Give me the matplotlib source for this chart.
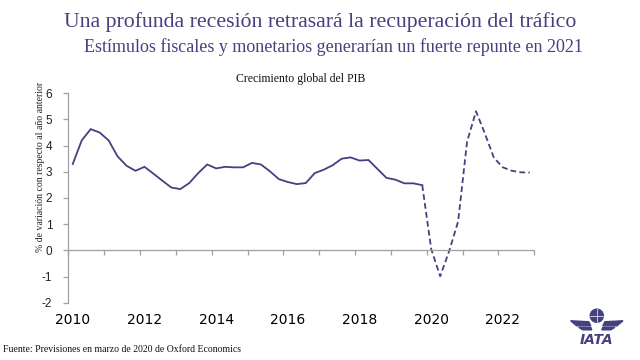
import matplotlib
matplotlib.use("Agg")
import matplotlib.pyplot as plt
import numpy as np
from matplotlib.patches import Circle, Polygon

# Quarterly global GDP growth (% y/y), 2010Q1 .. 2022Q4
years = list(range(2010, 2023))
actual = [3.30, 4.20, 4.63, 4.50,
          4.20, 3.59, 3.23, 3.04,
          3.19, 2.93, 2.66, 2.40,
          2.34, 2.57, 2.95, 3.28,
          3.13, 3.19, 3.17, 3.17,
          3.34, 3.28, 3.02, 2.72,
          2.61, 2.53, 2.57, 2.95,
          3.08, 3.25, 3.50, 3.55,
          3.43, 3.45, 3.11, 2.77,
          2.70, 2.56, 2.56, 2.49]
forecast = [0.05, -0.99, -0.03, 1.10,
            4.15, 5.31, 4.45, 3.53,
            3.17, 3.04, 2.98, 2.97]
x_labels = ["2010", "2012", "2014", "2016", "2018", "2020", "2022"]
y_ticks = [-2, -1, 0, 1, 2, 3, 4, 5, 6]

title = "Una profunda recesión retrasará la recuperación del tráfico"
subtitle = "Estímulos fiscales y monetarios generarían un fuerte repunte en 2021"
chart_title = "Crecimiento global del PIB"
ylabel = "% de variación con respecto al año anterior"
source = "Fuente: Previsiones en marzo de 2020 de Oxford Economics"

navy = "#45407f"
serif = "Liberation Serif"
sans = "Liberation Sans"

n_act = len(actual)
x_act = 2010 + (np.arange(n_act) + 0.5) / 4
x_fc = 2010 + (np.arange(n_act - 1, n_act + len(forecast)) + 0.5) / 4
y_fc = [actual[-1]] + forecast

fig = plt.figure(figsize=(6.4, 3.6), dpi=100)
ax = fig.add_axes([0.1067, 0.159, 0.7281, 0.582])

ax.plot(x_act, actual, color=navy, lw=1.3, solid_joinstyle="miter")
ax.plot(x_fc, y_fc, color=navy, lw=1.3, dashes=(3.2, 1.8))

ax.set_xlim(2010, 2023)
ax.set_ylim(-2, 6)
ax.set_yticks(y_ticks)
ax.set_yticklabels([str(v) for v in y_ticks], fontsize=8.5, family=sans, color="#222222")

label_pos = [int(s) + 0.125 for s in x_labels]
ax.set_xticks(label_pos)
ax.set_xticklabels(x_labels, fontsize=8.5, family=sans, color="#222222")
ax.set_xticks(np.arange(2010, 2024), minor=True)
ax.tick_params(axis="x", which="major", length=0, pad=45)
ax.tick_params(axis="x", which="minor", length=3.5, direction="out", color="#a0a0a0", width=0.9)
ax.tick_params(axis="y", length=3.5, direction="out", color="#a0a0a0", width=0.9, pad=8)

for s in ["top", "right"]:
    ax.spines[s].set_visible(False)
ax.spines["bottom"].set_position(("data", 0))
ax.spines["bottom"].set_color("#a0a0a0")
ax.spines["left"].set_color("#a0a0a0")
ax.spines["bottom"].set_linewidth(0.9)
ax.spines["left"].set_linewidth(0.9)

ax.set_ylabel(ylabel, family=serif, fontsize=7, color="#222222")
ax.yaxis.set_label_coords(-0.051, 0.646)

fig.text(0.5, 0.939, title, family=serif, fontsize=15.7, color=navy, ha="center", va="center")
fig.text(0.521, 0.869, subtitle, family=serif, fontsize=13.0, color=navy, ha="center", va="center")
fig.text(0.47, 0.78, chart_title, family=serif, fontsize=8.5, color="#111111", ha="center", va="center")
fig.text(0.005, 0.028, source, family=serif, fontsize=7, color="#111111", ha="left", va="center")

# IATA logo (simplified)
lax = fig.add_axes([0.885, 0.025, 0.095, 0.14])
lax.set_xlim(0, 60)
lax.set_ylim(0, 50)
lax.set_aspect("equal")
lax.axis("off")
lax.add_patch(Circle((30, 35), 6.5, color=navy))
lax.plot([23.5, 36.5], [35, 35], color="white", lw=0.5)
lax.plot([30, 30], [28.5, 41.5], color="white", lw=0.5)
lax.add_patch(Polygon([[4, 30], [22, 29], [24, 25], [10, 25]], closed=True, color=navy))
lax.add_patch(Polygon([[56, 30], [38, 29], [36, 25], [50, 25]], closed=True, color=navy))
lax.add_patch(Polygon([[12, 23.5], [24, 23.5], [25, 21], [16, 21]], closed=True, color=navy))
lax.add_patch(Polygon([[48, 23.5], [36, 23.5], [35, 21], [44, 21]], closed=True, color=navy))
lax.text(30, 11, "IATA", family="DejaVu Sans", fontsize=10, fontweight="bold",
         style="italic", color=navy, ha="center", va="center")

fig.savefig("out.png", dpi=100)
